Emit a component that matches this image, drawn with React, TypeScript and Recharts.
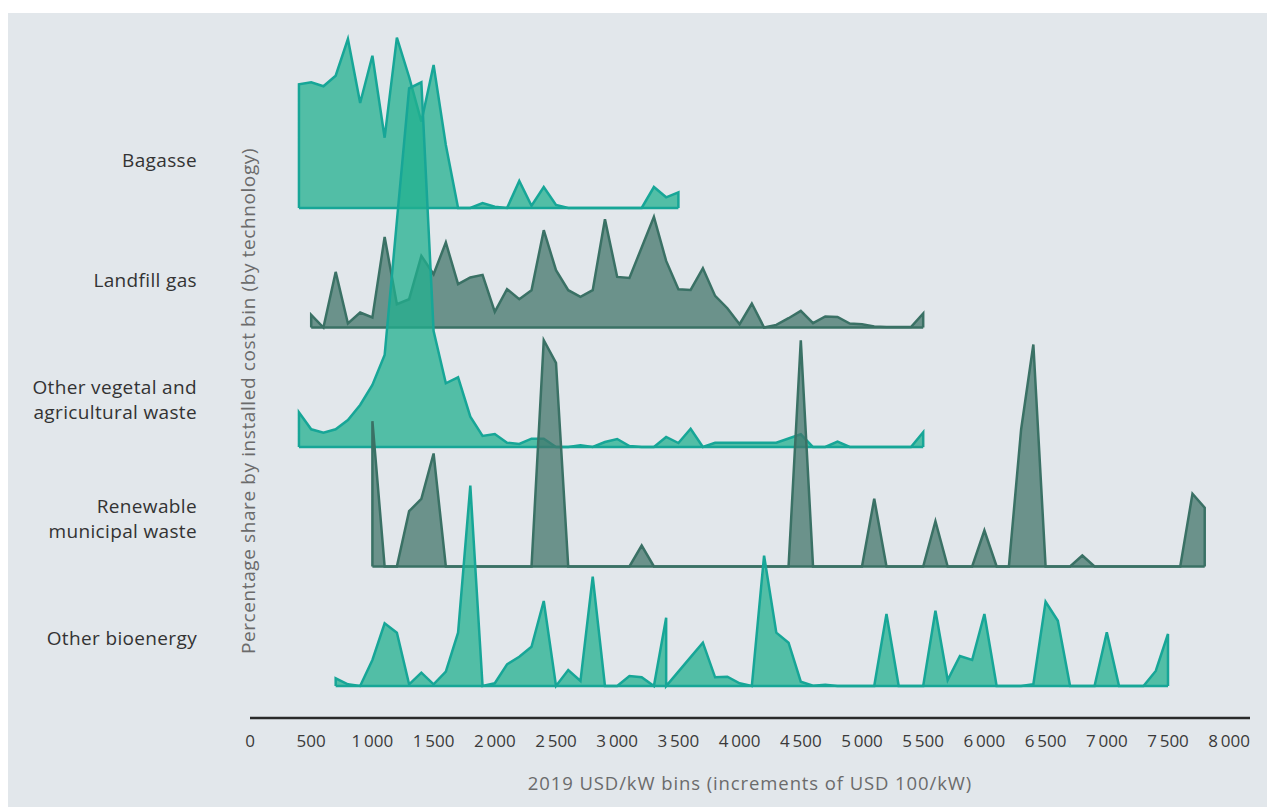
import { Area, ComposedChart, Label, XAxis, YAxis } from 'recharts';

const BIN_WIDTH = 100;

const technologies = [
  'Bagasse',
  'Landfill gas',
  'Other vegetal and\nagricultural waste',
  'Renewable\nmunicipal waste',
  'Other bioenergy',
];

// first cost bin (USD/kW) of each technology
const firstBins = [400, 500, 400, 1000, 700];

// share by installed cost bin, one value per 100 USD/kW bin
const bagasse = [
  123.7, 125.7, 121.7, 132.3, 169, 105, 152.3, 70.3, 170.3, 131,
  86.3, 143, 63, 0, 0, 5, 1.3, 0, 27, 2.3,
  21, 3, 0, 0, 0, 0, 0, 0, 0, 21,
  10.7, 15.7,
];

const landfillGas = [
  12.6, 0, 55.6, 4, 15, 10, 90.6, 23.3, 28.3, 71.6,
  53.3, 85, 43.3, 50, 52.6, 15.6, 38.3, 28.3, 37.3, 97.3,
  57.3, 37.3, 30.6, 37.3, 108.3, 50.6, 49.6, 80, 110.6, 66.6,
  38.3, 37.6, 59.3, 31.6, 19.3, 3.3, 24, 0, 2.6, 9.3,
  16.6, 4.3, 11, 10.6, 4, 3.3, 1, 0.5, 0.5, 0.5,
  14,
];

const otherVegetal = [
  34.7, 17.7, 14.3, 17.7, 27, 42, 62, 92, 226, 358.7,
  364.7, 116, 63.7, 69.7, 30.3, 11, 13, 4.3, 3, 8.3,
  8.3, 0, 0, 1.7, 0, 5, 8, 1, 0, 0,
  10, 4, 18.3, 0, 4.3, 4.3, 4.3, 4.3, 4.3, 4.3,
  8.5, 12.7, 0, 0, 5.3, 0, 0, 0, 0, 0,
  0, 14.7,
];

const municipalWaste = [
  145.3, 0, 0, 55.3, 67.7, 113, 0, 0, 0, 0,
  0, 0, 0, 0, 226.3, 203.7, 0, 0, 0, 0,
  0, 0, 21, 0, 0, 0, 0, 0, 0, 0,
  0, 0, 0, 0, 0, 226.3, 0, 0, 0, 0,
  0, 67.7, 0, 0, 0, 0, 45.3, 0, 0, 0,
  36, 0, 0, 137, 222, 0, 0, 0, 11, 0,
  0, 0, 0, 0, 0, 0, 0, 72.7, 58.7,
];

// a pair means the outline drops straight down inside that bin
const otherBioenergy: (number | number[])[] = [
  7.7, 1.7, 0, 26, 62.7, 53.3, 1.7, 13.3, 1.7, 14.3,
  53.3, 200.3, 0, 2.7, 21.7, 29.3, 39.3, 85, 0, 16,
  5, 109.3, 0, 0, 10, 8.7, 0, [68.3, 0], 14.4, 28.9,
  43.3, 8.7, 9.3, 2.7, 0, 130.3, 53.3, 43.3, 4.3, 0.3,
  1.3, 0, 0, 0, 0, 72, 0, 0, 0, 75.3,
  6, 30, 26, 72, 0, 0, 0, 1.7, 84.3, 65.3,
  0, 0, 0, 53.7, 0, 0, 0, 15, 52,
];

const seriesValues = [bagasse, landfillGas, otherVegetal, municipalWaste, otherBioenergy];

const xTicks = [0, 500, 1000, 1500, 2000, 2500, 3000, 3500, 4000, 4500, 5000, 5500, 6000, 6500, 7000, 7500, 8000];

const TEAL = { stroke: '#17a697', fill: '#22b08f' };
const SLATE = { stroke: '#3a7165', fill: '#43766b' };
const palette = [TEAL, SLATE, TEAL, SLATE, TEAL];

// ridge layout (vertical offsets of each baseline on the value axis)
const BOTTOM_RIDGE = 32;
const RIDGE_GAP = 119.5;
const LABEL_LIFT = 48;

type Point = { bin: number; share: number };

const ridgeBase = (index: number) => BOTTOM_RIDGE + (technologies.length - 1 - index) * RIDGE_GAP;

const toPoints = (start: number, values: (number | number[])[]): Point[] => {
  const points: Point[] = [{ bin: start, share: 0 }];
  values.forEach((value, i) => {
    const bin = start + i * BIN_WIDTH;
    (Array.isArray(value) ? value : [value]).forEach((share) => points.push({ bin, share }));
  });
  points.push({ bin: start + (values.length - 1) * BIN_WIDTH, share: 0 });
  return points;
};

const labelTicks = technologies.map((_, i) => ridgeBase(i) + LABEL_LIFT);

const formatBin = (value: number) => String(value).replace(/\B(?=(\d{3})+(?!\d))/g, '\u2009');

function CategoryTick(props: any) {
  const { x, y, payload } = props;
  const index = labelTicks.indexOf(payload.value);
  if (index < 0) return null;
  const lines = technologies[index].split('\n');
  const lineHeight = 25;
  return (
    <text x={x} y={y} textAnchor="end" fill="#333" fontSize={19} letterSpacing={0.35}>
      {lines.map((line, i) => (
        <tspan key={line} x={x} dy={i === 0 ? `${-((lines.length - 1) * lineHeight) / 2 + 7}` : `${lineHeight}`}>
          {line}
        </tspan>
      ))}
    </text>
  );
}

function ValueAxisTitle(props: any) {
  const { viewBox } = props;
  const cx = viewBox.x + viewBox.width - 2;
  const cy = viewBox.y + viewBox.height / 2 + 33;
  return (
    <text
      x={cx}
      y={cy}
      transform={`rotate(-90, ${cx}, ${cy})`}
      textAnchor="middle"
      dominantBaseline="central"
      fill="#6b6b6b"
      fontSize={19}
      letterSpacing={0.6}
    >
      Percentage share by installed cost bin (by technology)
    </text>
  );
}

export default function App() {
  return (
    <div style={{ position: 'absolute', left: 0, top: 0, width: 1267, height: 807, background: '#fff' }}>
      <div style={{ position: 'absolute', left: 8, top: 13, right: 0, bottom: 0, background: '#e2e7eb' }} />
      <div style={{ position: 'absolute', left: 0, top: 0, fontFamily: '"Open Sans", sans-serif' }}>
        <ComposedChart width={1267} height={807} margin={{ top: 18, right: 17, bottom: 9, left: 0 }}>
          <XAxis
            type="number"
            dataKey="bin"
            domain={[0, 8170]}
            ticks={xTicks}
            interval={0}
            allowDataOverflow
            tickFormatter={formatBin}
            axisLine={{ stroke: '#2a2a2a', strokeWidth: 2.5 }}
            tickLine={false}
            tickSize={0}
            tickMargin={17}
            height={80}
            tick={{ fill: '#3a3a3a', fontSize: 17 }}
          >
            <Label
              value="2019 USD/kW bins (increments of USD 100/kW)"
              position="insideBottom"
              offset={8}
              fill="#6b6b6b"
              fontSize={18.5}
              letterSpacing={0.9}
            />
          </XAxis>
          <YAxis
            type="number"
            domain={[0, 700]}
            allowDataOverflow
            ticks={labelTicks}
            interval={0}
            width={250}
            axisLine={false}
            tickLine={false}
            tickSize={0}
            tickMargin={53}
            tick={(p: any) => <CategoryTick {...p} />}
          >
            <Label content={(p: any) => <ValueAxisTitle {...p} />} />
          </YAxis>
          {seriesValues.map((values, i) => {
            const base = ridgeBase(i);
            return (
              <Area
                key={technologies[i]}
                name={technologies[i]}
                data={toPoints(firstBins[i], values)}
                dataKey={(d: Point) => [base, base + d.share]}
                type="linear"
                stroke={palette[i].stroke}
                strokeWidth={2.5}
                fill={palette[i].fill}
                fillOpacity={0.75}
                dot={false}
                activeDot={false}
                isAnimationActive={false}
              />
            );
          })}
        </ComposedChart>
      </div>
    </div>
  );
}
